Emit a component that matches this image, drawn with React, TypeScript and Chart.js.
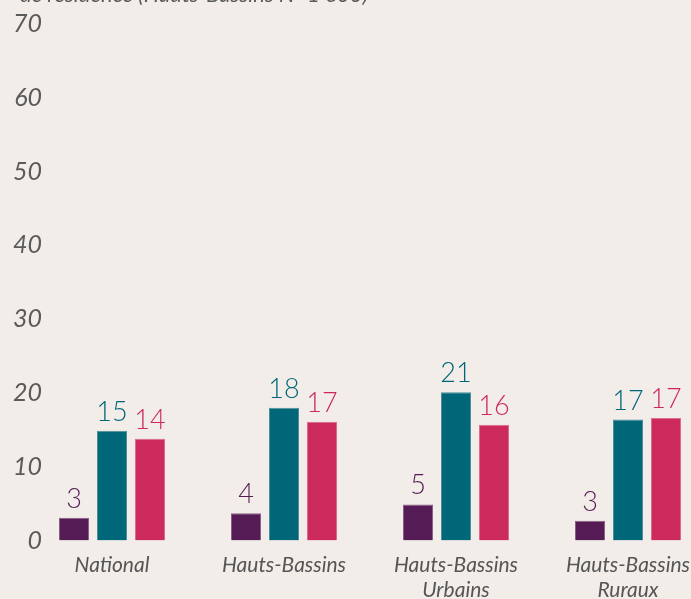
import React, { useEffect, useRef } from "react";
import { Chart, registerables } from "chart.js";

Chart.register(...registerables);

const categories: (string | string[])[] = [
  "National",
  "Hauts-Bassins",
  ["Hauts-Bassins", "Urbains"],
  ["Hauts-Bassins", "Ruraux"],
];

const seriesA = [3.1, 3.7, 4.9, 2.7];
const seriesB = [14.9, 18.0, 20.1, 16.4];
const seriesC = [13.8, 16.1, 15.7, 16.6];

const labelsA = ["3", "4", "5", "3"];
const labelsB = ["15", "18", "21", "17"];
const labelsC = ["14", "17", "16", "17"];

const yTicks = [0, 10, 20, 30, 40, 50, 60, 70];

const titleText = "de résidence (Hauts-Bassins N=1 600)";

const BG = "#f2ede9";

export default function App() {
  const ref = useRef<HTMLCanvasElement>(null);

  useEffect(() => {
    const canvas = ref.current;
    if (!canvas) return;

    const valueLabels = {
      id: "valueLabels",
      afterDatasetsDraw(chart: any) {
        const ctx = chart.ctx;
        ctx.save();
        ctx.font = "300 27px Lato";
        ctx.textAlign = "center";
        ctx.textBaseline = "alphabetic";
        chart.data.datasets.forEach((ds: any, i: number) => {
          const meta = chart.getDatasetMeta(i);
          meta.data.forEach((el: any, j: number) => {
            ctx.fillStyle = ds.backgroundColor;
            ctx.fillText(ds.valueLabels[j], el.x, el.y - 10);
          });
        });
        ctx.restore();
      },
    };

    const yLabels = {
      id: "yLabels",
      afterDraw(chart: any) {
        const ctx = chart.ctx;
        const y = chart.scales.y;
        ctx.save();
        ctx.font = "italic 400 25px Lato";
        ctx.fillStyle = "#5a5a5a";
        ctx.textAlign = "right";
        ctx.textBaseline = "middle";
        yTicks.forEach((v) => {
          ctx.fillText(String(v), 42, y.getPixelForValue(v));
        });
        ctx.restore();
      },
    };

    const topTitle = {
      id: "topTitle",
      afterDraw(chart: any) {
        const ctx = chart.ctx;
        ctx.save();
        ctx.font = "italic 400 22px Lato";
        ctx.fillStyle = "#5a5a5a";
        ctx.textAlign = "left";
        ctx.textBaseline = "alphabetic";
        ctx.fillText(titleText, 20, 2);
        ctx.restore();
      },
    };

    const chart = new Chart(canvas, {
      type: "bar",
      data: {
        labels: categories,
        datasets: [
          {
            data: seriesA,
            backgroundColor: "#541b54",
            borderColor: "#8a6088",
            borderWidth: 1,
            valueLabels: labelsA,
          } as any,
          {
            data: seriesB,
            backgroundColor: "#006779",
            borderColor: "#4d8f9c",
            borderWidth: 1,
            valueLabels: labelsB,
          } as any,
          {
            data: seriesC,
            backgroundColor: "#cc2a5a",
            borderColor: "#dc6c8c",
            borderWidth: 1,
            valueLabels: labelsC,
          } as any,
        ],
      },
      options: {
        responsive: false,
        animation: false,
        devicePixelRatio: 1,
        layout: { padding: { left: 26, right: 26, top: 24, bottom: 5 } },
        datasets: {
          bar: { categoryPercentage: 0.663, barPercentage: 0.79 },
        },
        plugins: {
          legend: { display: false },
          tooltip: { enabled: false },
          title: { display: false },
        },
        scales: {
          x: {
            grid: { display: false, drawTicks: false },
            border: { display: false },
            ticks: {
              color: "#555555",
              padding: 12,
              maxRotation: 0,
              autoSkip: false,
              font: { family: "Lato", size: 21, style: "italic", lineHeight: 1.2 },
            },
          },
          y: {
            display: false,
            min: 0,
            max: 70,
          },
        },
      },
      plugins: [valueLabels, yLabels, topTitle],
    });

    return () => chart.destroy();
  }, []);

  return (
    <div
      style={{
        position: "fixed",
        left: 0,
        top: 0,
        width: 691,
        height: 599,
        overflow: "hidden",
        background: BG,
      }}
    >
      <canvas ref={ref} width={740} height={620} style={{ display: "block" }} />
    </div>
  );
}
